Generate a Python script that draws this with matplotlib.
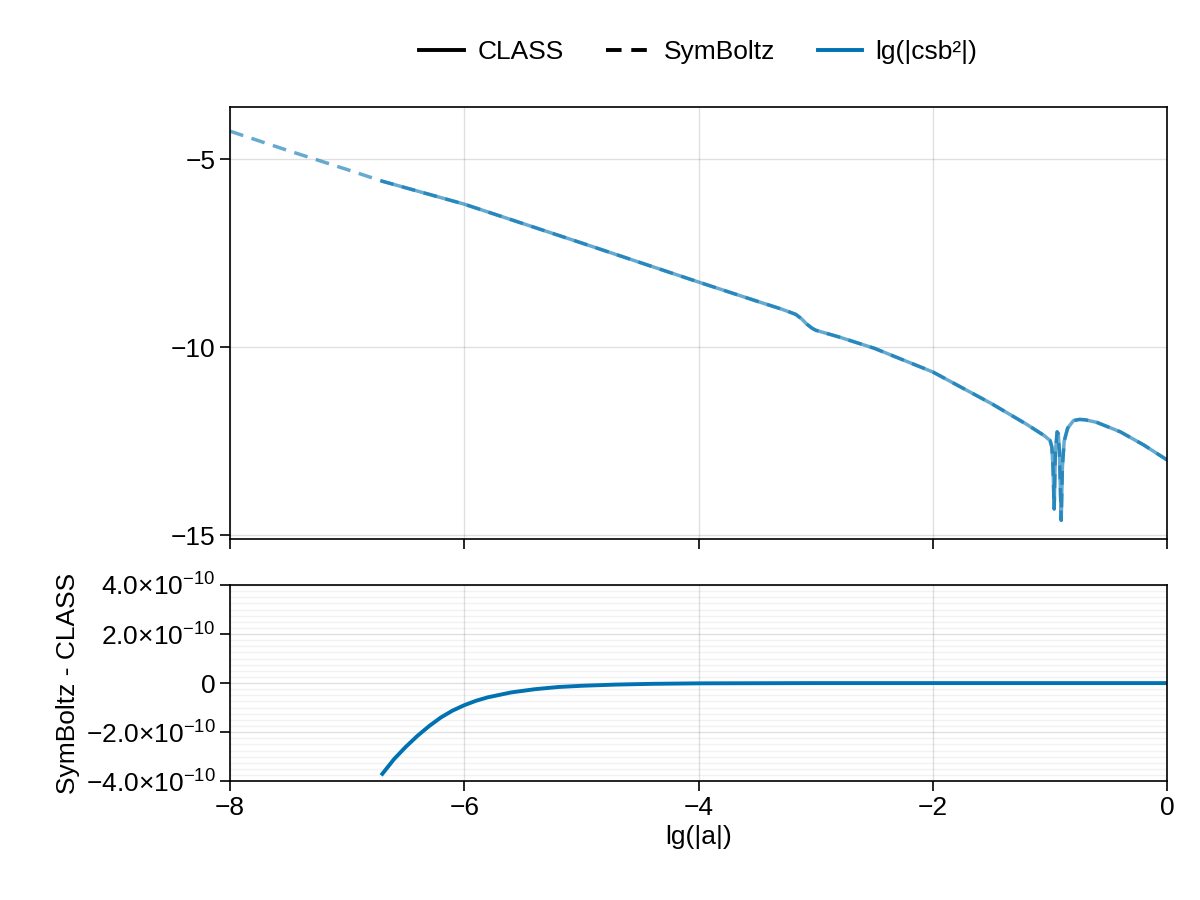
import numpy as np
import matplotlib
matplotlib.use("Agg")
import matplotlib.pyplot as plt
from matplotlib.lines import Line2D
from matplotlib.ticker import MultipleLocator

plt.rcParams["font.family"] = "Liberation Sans"
plt.rcParams["font.size"] = 19

# lg(|a|) and lg(|csb^2|)
lga = [-8.0, -7.5, -7.0, -6.7, -6.0, -5.0, -4.0, -3.5, -3.3, -3.22, -3.17, -3.12, -3.08, -3.03, -3.0, -2.9,
       -2.8, -2.5, -2.0,
       -1.5, -1.2, -1.05, -1.0, -0.985, -0.975, -0.965, -0.955, -0.94, -0.93, -0.92, -0.912,
       -0.905, -0.895, -0.88, -0.85, -0.8, -0.75, -0.7, -0.6, -0.4, -0.2, 0.0]
lgcs = [-4.26, -4.78, -5.28, -5.59, -6.2, -7.23, -8.27, -8.78, -8.98, -9.07, -9.13, -9.25, -9.38, -9.5, -9.55,
        -9.64, -9.73, -10.03, -10.66,
        -11.5, -12.05, -12.35, -12.48, -12.65, -13.2, -14.3, -12.8, -12.25, -12.3, -12.8, -13.8,
        -14.6, -13.2, -12.5, -12.15, -11.95, -11.92, -11.93, -12.0, -12.25, -12.6, -13.0]
class_start = -6.7

# SymBoltz - CLASS difference
dlga = [-6.7, -6.6, -6.5, -6.4, -6.3, -6.2, -6.1, -6.0, -5.9, -5.8, -5.6, -5.4, -5.2, -5.0,
        -4.7, -4.4, -4.0, -3.0, -2.0, -1.0, 0.0]
diff = [-3.7e-10, -3.1e-10, -2.6e-10, -2.15e-10, -1.75e-10, -1.4e-10, -1.12e-10, -0.9e-10,
        -0.72e-10, -0.58e-10, -0.38e-10, -0.25e-10, -0.16e-10, -0.11e-10,
        -0.06e-10, -0.03e-10, -0.01e-10, 0.0, 0.0, 0.0, 0.0]

blue = "#0072b2"
fig = plt.figure(figsize=(12, 9), dpi=100)
ax1 = fig.add_axes([0.1917, 0.401, 0.781, 0.48])
ax2 = fig.add_axes([0.1917, 0.132, 0.781, 0.218])

x = np.array(lga)
y = np.array(lgcs)
m = x >= class_start
ax1.plot(x[m], y[m], color=blue, lw=2.5, alpha=0.6)
ax1.plot(x, y, color=blue, lw=2.5, alpha=0.6, ls=(0, (4, 2.5)))
ax1.set_xlim(-8, 0)
ax1.set_ylim(-15.1, -3.62)
ax1.set_yticks([-15, -10, -5])
ax1.set_yticklabels(["\u221215", "\u221210", "\u22125"])
ax1.set_xticks([-8, -6, -4, -2, 0])
ax1.set_xticklabels([])

ax2.plot(dlga, diff, color=blue, lw=2.8)
ax2.set_xlim(-8, 0)
ax2.set_ylim(-4e-10, 4e-10)
yt = [-4e-10, -2e-10, 0, 2e-10, 4e-10]
ax2.set_yticks(yt)
ax2.set_yticklabels([r"$\mathregular{-4.0{\times}10^{-10}}$", r"$\mathregular{-2.0{\times}10^{-10}}$", "0",
                     r"$\mathregular{2.0{\times}10^{-10}}$", r"$\mathregular{4.0{\times}10^{-10}}$"])
ax2.yaxis.set_minor_locator(MultipleLocator(0.25e-10))
ax2.grid(True, which="minor", axis="y", color="#000000", alpha=0.05, lw=1)
ax2.set_xticks([-8, -6, -4, -2, 0])
ax2.set_xticklabels(["\u22128", "\u22126", "\u22124", "\u22122", "0"])
ax2.set_xlabel("lg(|a|)")
ax2.set_ylabel("SymBoltz - CLASS")

for ax in (ax1, ax2):
    ax.grid(True, which="major", color="#000000", alpha=0.12, lw=1)
    ax.tick_params(which="major", direction="out", length=7, width=1.2, top=False, right=False)
    ax.tick_params(which="minor", length=0)
    for s in ax.spines.values():
        s.set_linewidth(1.2)

handles = [Line2D([], [], color="black", lw=2.8),
           Line2D([], [], color="black", lw=2.8, ls=(0, (4, 2.5))),
           Line2D([], [], color=blue, lw=2.8)]
fig.legend(handles, ["CLASS", "SymBoltz", "lg(|csb\u00b2|)"], loc="center", bbox_to_anchor=(0.582, 0.942),
           ncol=3, frameon=False, handlelength=1.7, columnspacing=1.6, handletextpad=0.5)

fig.savefig("out.png", dpi=100)
